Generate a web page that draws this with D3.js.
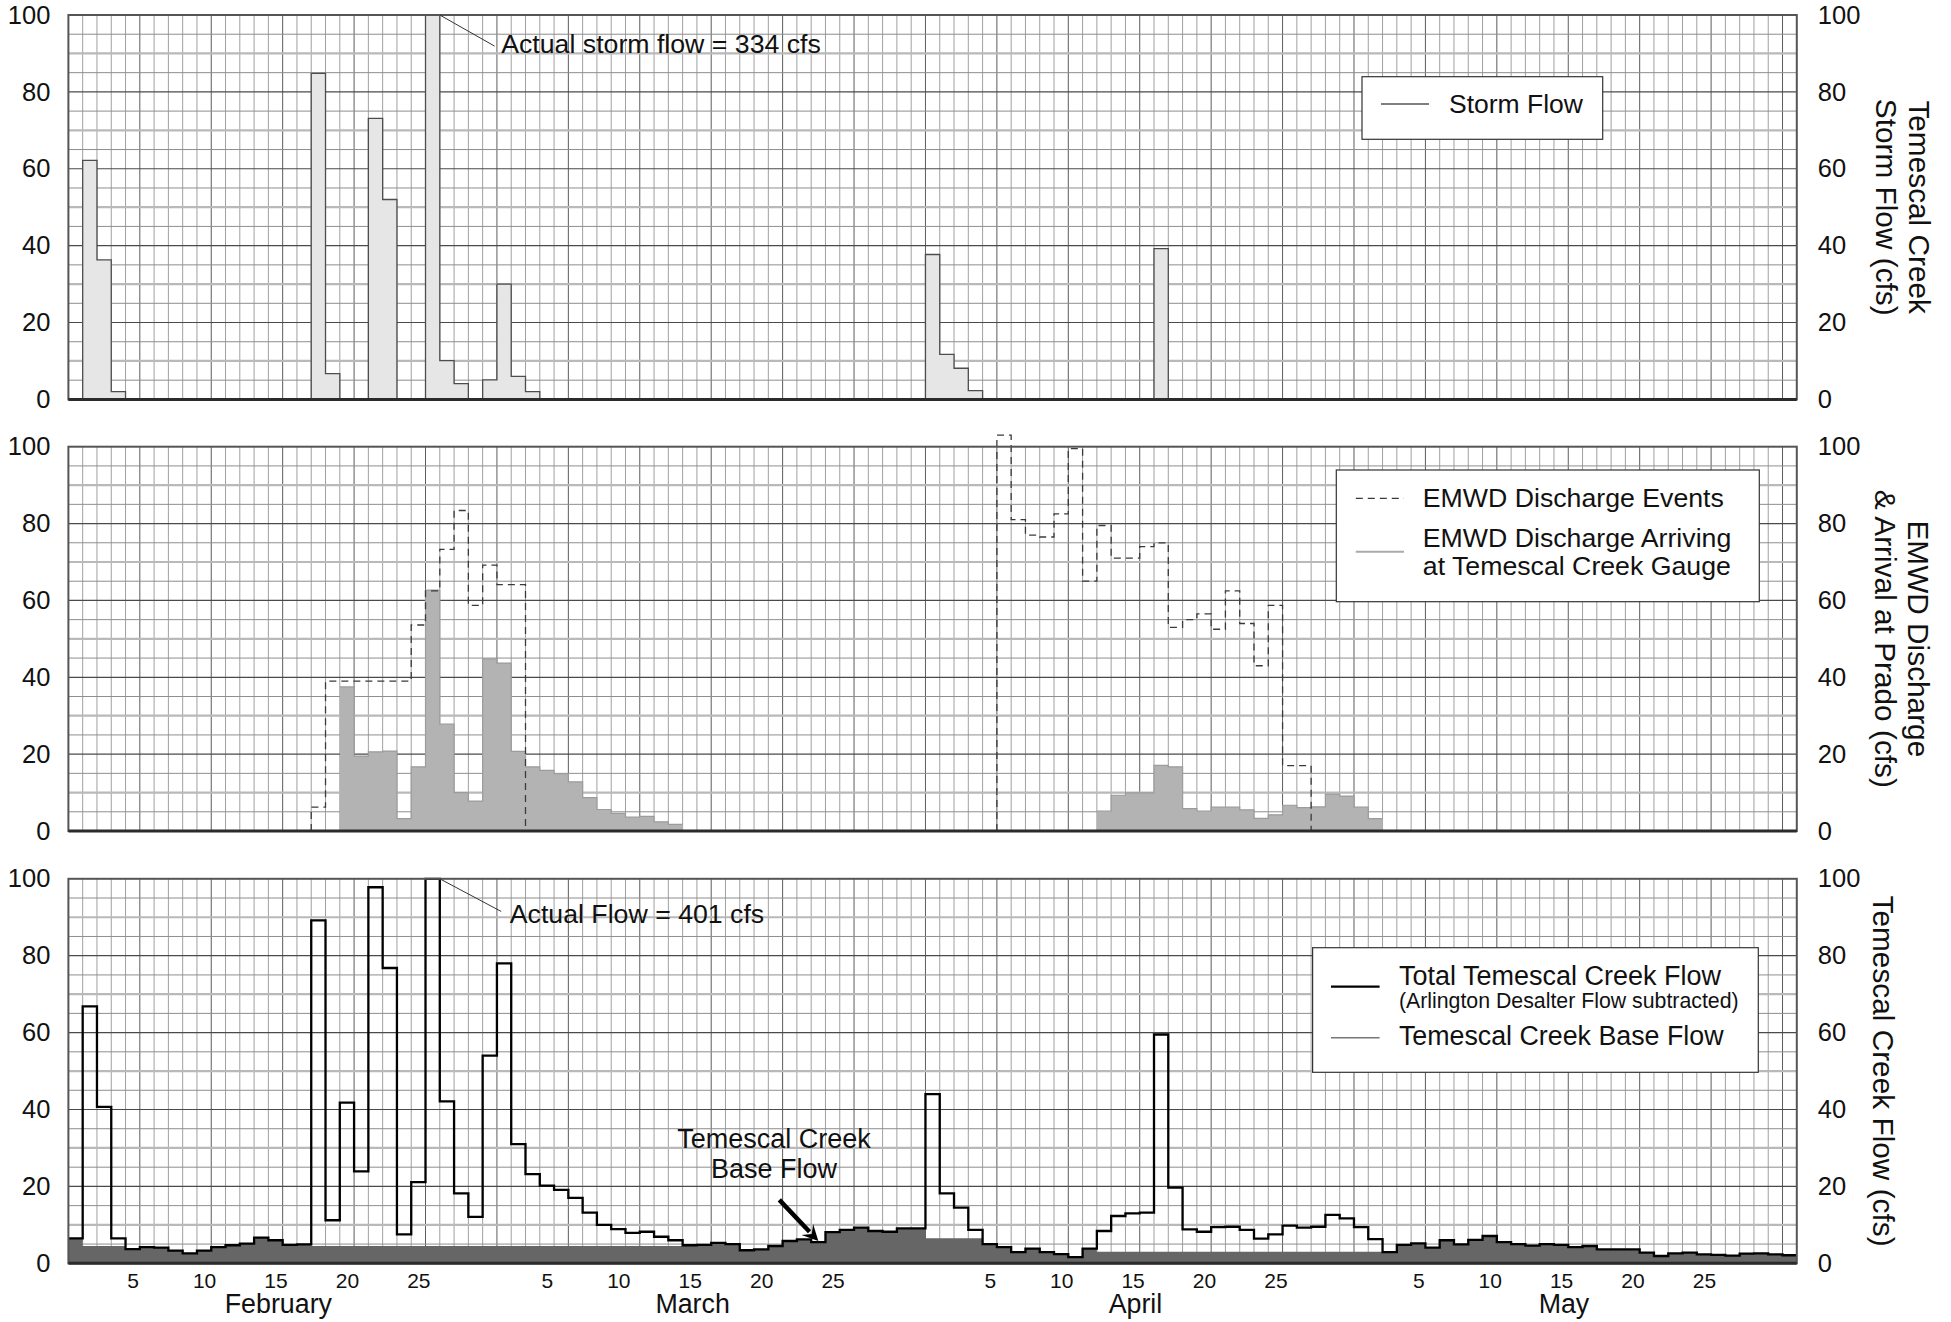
<!DOCTYPE html>
<html><head><meta charset="utf-8">
<script src="https://cdn.jsdelivr.net/npm/d3@7"></script>
<style>
html,body{margin:0;padding:0;background:#fff;}
svg{display:block;font-family:"Liberation Sans", Arial, sans-serif;}
</style></head><body>
<svg id="chart" width="1951" height="1322"></svg>
<script>
// ---------------- DATA ----------------
const months = ["February", "March", "April", "May"];
const monthDays = [29, 31, 30, 31];
const dayTicks = [5, 10, 15, 20, 25];
const yTicks = [0, 20, 40, 60, 80, 100];

// Temescal Creek storm flow (cfs), one value per day Feb 1 .. May 31
const stormFlow = [
  0, 62.2, 36.3, 2.0, 0, 0, 0, 0, 0, 0,
  0, 0, 0, 0, 0, 0, 0, 84.8, 6.7, 0,
  0, 73.1, 52.0, 0, 0, 334, 10.1, 4.1, 0, 5.1,
  30.0, 6.0, 2.0, 0, 0, 0, 0, 0, 0, 0,
  0, 0, 0, 0, 0, 0, 0, 0, 0, 0,
  0, 0, 0, 0, 0, 0, 0, 0, 0, 0,
  37.7, 11.7, 8.1, 2.3, 0, 0, 0, 0, 0, 0,
  0, 0, 0, 0, 0, 0, 39.2, 0, 0, 0,
  0, 0, 0, 0, 0, 0, 0, 0, 0, 0,
  0, 0, 0, 0, 0, 0, 0, 0, 0, 0,
  0, 0, 0, 0, 0, 0, 0, 0, 0, 0,
  0, 0, 0, 0, 0, 0, 0, 0, 0, 0,
  0
];

// EMWD discharge events (cfs); null = no event
const emwdEvents = [
  null, null, null, null, null, null, null, null, null, null,
  null, null, null, null, null, null, null, 6.2, 39, 39,
  39, 39, 39, 39, 53.6, 62.5, 73.3, 83.4, 58.7, 69.2,
  64.1, 64.1, 0, 0, 0, 0, 0, 0, 0, 0,
  0, 0, 0, null, null, null, null, null, null, null,
  null, null, null, null, null, null, null, null, null, null,
  null, null, null, null, null, 103, 81, 77, 76.5, 82.5,
  99.5, 65, 79.5, 71, 71, 74, 75, 53, 55, 56.5,
  52.5, 62.5, 54, 43, 58.7, 17, 17, 0, 0, 0,
  0, 0, null, null, null, null, null, null, null, null,
  null, null, null, null, null, null, null, null, null, null,
  null, null, null, null, null, null, null, null, null, null,
  null
];

// EMWD discharge arriving at Temescal Creek gauge (cfs)
const emwdArriving = [
  null, null, null, null, null, null, null, null, null, null,
  null, null, null, null, null, null, null, null, null, 37.5,
  19.5, 20.6, 20.8, 3.2, 16.7, 62.7, 27.8, 10.0, 7.8, 44.8,
  43.7, 20.7, 16.7, 15.8, 14.9, 12.8, 8.7, 5.6, 4.6, 3.6,
  3.8, 2.4, 1.7, null, null, null, null, null, null, null,
  null, null, null, null, null, null, null, null, null, null,
  null, null, null, null, null, null, null, null, null, null,
  null, null, 5.2, 9.3, 9.9, 9.9, 17.1, 16.7, 5.8, 5.2,
  6.2, 6.2, 5.5, 3.3, 4.2, 6.7, 6.1, 6.3, 9.6, 9.1,
  6.2, 3.2, null, null, null, null, null, null, null, null,
  null, null, null, null, null, null, null, null, null, null,
  null, null, null, null, null, null, null, null, null, null,
  null
];

// Total Temescal Creek flow (Arlington Desalter flow subtracted), cfs
const totalFlow = [
  6.5, 66.8, 40.7, 6.5, 3.7, 4.2, 4.1, 3.3, 2.6, 3.3,
  4.2, 4.7, 5.1, 6.7, 6.0, 4.8, 4.9, 89.2, 11.2, 41.8,
  23.9, 97.8, 76.8, 7.5, 21.1, 401, 42.1, 18.2, 12.1, 54.0,
  78.0, 31.0, 23.2, 20.2, 19.1, 17.0, 13.2, 10.0, 8.9, 7.9,
  8.2, 6.9, 6.0, 4.7, 4.8, 5.3, 5.0, 3.4, 3.6, 4.5,
  5.8, 6.2, 5.5, 8.1, 8.7, 9.3, 8.4, 8.2, 9.1, 9.1,
  44.0, 18.2, 14.5, 8.7, 5.0, 4.2, 2.9, 3.8, 2.9, 2.4,
  1.6, 3.8, 8.4, 12.3, 13.0, 13.2, 59.5, 19.7, 8.8, 8.2,
  9.4, 9.5, 8.7, 6.4, 7.5, 9.8, 9.3, 9.5, 12.6, 11.7,
  9.4, 6.3, 2.9, 4.8, 5.2, 4.1, 6.0, 4.9, 6.1, 7.1,
  5.5, 5.0, 4.6, 5.0, 4.8, 4.2, 4.5, 3.6, 3.6, 3.6,
  2.8, 1.9, 2.6, 2.8, 2.3, 2.2, 2.0, 2.5, 2.6, 2.3,
  2.1
];

// Temescal Creek base flow, cfs
const baseFlow = [
  6.5, 4.5, 4.5, 4.5, 3.7, 4.2, 4.1, 3.3, 2.6, 3.3,
  4.2, 4.7, 5.1, 6.7, 6.0, 4.8, 4.9, 4.5, 4.5, 4.5,
  4.5, 4.5, 4.5, 4.5, 4.5, 4.5, 4.5, 4.5, 4.5, 4.5,
  4.5, 4.5, 4.5, 4.5, 4.5, 4.5, 4.5, 4.5, 4.5, 4.5,
  4.5, 4.5, 4.5, 4.7, 4.8, 5.3, 5.0, 3.4, 3.6, 4.5,
  5.8, 6.2, 5.5, 8.1, 8.7, 9.3, 8.4, 8.2, 9.1, 9.1,
  6.5, 6.5, 6.5, 6.5, 5.0, 4.2, 2.9, 3.8, 2.9, 2.4,
  1.6, 3.8, 3.0, 3.0, 3.0, 3.0, 3.0, 3.0, 3.0, 3.0,
  3.0, 3.0, 3.0, 3.0, 3.0, 3.0, 3.0, 3.0, 3.0, 3.0,
  3.0, 3.0, 2.9, 4.8, 5.2, 4.1, 6.0, 4.9, 6.1, 7.1,
  5.5, 5.0, 4.6, 5.0, 4.8, 4.2, 4.5, 3.6, 3.6, 3.6,
  2.8, 1.9, 2.6, 2.8, 2.3, 2.2, 2.0, 2.5, 2.6, 2.3,
  2.1
];

const panelTitles = [
  ["Temescal Creek", "Storm Flow (cfs)"],
  ["EMWD Discharge", "& Arrival at Prado (cfs)"],
  ["Temescal Creek Flow (cfs)"]
];

// ---------------- LAYOUT ----------------
const svg = d3.select("#chart");
svg.append("rect").attr("width", 1951).attr("height", 1322).attr("fill", "#fff");
const FONT = '"Liberation Sans", Arial, sans-serif';
const TXT = 26.7;

const nDays = d3.sum(monthDays);
const monthStart = monthDays.map((d, i) => d3.sum(monthDays.slice(0, i)));
const x = d3.scaleLinear().domain([0, nDays]).range([68.4, 1796.8]);
const panelBox = [[15, 399.4], [446.7, 831], [878.8, 1263.3]];
const ys = panelBox.map(([t, b], k) => d3.scaleLinear().domain([0, 100]).range([b, t]).clamp(k !== 1));

function stepPts(vals) {
  const p = vals.map((v, i) => [i, v]);
  p.push([vals.length, vals[vals.length - 1]]);
  return p;
}
function runs(vals) {
  const out = []; let cur = null;
  vals.forEach((v, i) => {
    if (v == null) { cur = null; return; }
    if (!cur) { cur = []; out.push(cur); }
    cur.push([i, v]);
  });
  out.forEach(r => { const l = r[r.length - 1]; r.push([l[0] + 1, l[1]]); });
  return out;
}

function drawGrid(y) {
  const g = svg.append("g");
  g.append("rect").attr("x", x(0)).attr("y", y(100)).attr("width", x(nDays) - x(0))
    .attr("height", y(0) - y(100)).attr("fill", "#fff");
  g.selectAll("line.v").data(d3.range(1, nDays)).join("line").attr("class", "v")
    .attr("x1", d => x(d)).attr("x2", d => x(d)).attr("y1", y(100)).attr("y2", y(0))
    .attr("stroke", d => d % 5 === 0 ? "#5c5c5c" : "#a0a0a0").attr("stroke-width", 1);
  g.selectAll("line.h").data(d3.range(5, 100, 5)).join("line").attr("class", "h")
    .attr("x1", x(0)).attr("x2", x(nDays)).attr("y1", d => y(d)).attr("y2", d => y(d))
    .attr("stroke", d => d % 20 === 0 ? "#4a4a4a" : (d % 10 === 0 ? "#b9b9b9" : "#8e8e8e"))
    .attr("stroke-width", d => d % 20 === 0 ? 1.2 : (d % 10 === 0 ? 2.2 : 1));
}
function drawFrame(y) {
  svg.append("rect").attr("x", x(0)).attr("y", y(100)).attr("width", x(nDays) - x(0))
    .attr("height", y(0) - y(100)).attr("fill", "none").attr("stroke", "#555").attr("stroke-width", 2);
  svg.append("line").attr("x1", x(0)).attr("x2", x(nDays)).attr("y1", y(0)).attr("y2", y(0))
    .attr("stroke", "#2b2b2b").attr("stroke-width", 3);
}
function drawYAxes(y) {
  const gl = svg.append("g").attr("transform", `translate(${x(0)},0)`)
    .call(d3.axisLeft(y).tickValues(yTicks).tickSize(0).tickPadding(18));
  const gr = svg.append("g").attr("transform", `translate(${x(nDays)},0)`)
    .call(d3.axisRight(y).tickValues(yTicks).tickSize(0).tickPadding(21));
  [gl, gr].forEach(g => {
    g.select(".domain").remove();
    g.attr("font-family", FONT).attr("font-size", 25.5);
    g.selectAll("text").attr("fill", "#111");
  });
}
function drawRightTitle(lines, k, baseX) {
  const [t, b] = panelBox[k];
  const g = svg.append("g").attr("transform", `translate(${baseX},${(t + b) / 2}) rotate(90)`);
  const txt = g.append("text").attr("text-anchor", "middle").attr("font-size", 29.8).attr("fill", "#111");
  lines.forEach((l, i) => txt.append("tspan").attr("x", 0).attr("y", i * 33).text(l));
}

const stepLine = y => d3.line().x(d => x(d[0])).y(d => y(d[1])).curve(d3.curveStepAfter);
const stepArea = y => d3.area().x(d => x(d[0])).y0(y(0)).y1(d => y(d[1])).curve(d3.curveStepAfter);

// ---------------- PANEL 1: storm flow ----------------
{
  const y = ys[0];
  drawGrid(y);
  const pts = stepPts(stormFlow);
  svg.append("path").attr("d", stepArea(y)(pts)).attr("fill", "#e6e6e6");
  svg.append("path").attr("d", stepLine(y)(pts)).attr("fill", "none").attr("stroke", "#4d4d4d").attr("stroke-width", 1.3);
  drawFrame(y);
  drawYAxes(y);
  drawRightTitle(panelTitles[0], 0, 1909);
  // annotation
  svg.append("line").attr("x1", x(26)).attr("y1", y(100)).attr("x2", x(29.84)).attr("y2", y(91.9))
    .attr("stroke", "#333").attr("stroke-width", 1);
  svg.append("text").attr("x", x(30.3)).attr("y", y(90.1)).attr("font-size", TXT).attr("fill", "#111")
    .text("Actual storm flow = 334 cfs");
  // legend
  svg.append("rect").attr("x", 1362).attr("y", 76.7).attr("width", 240.7).attr("height", 62.6)
    .attr("fill", "#fff").attr("stroke", "#333").attr("stroke-width", 1.2);
  svg.append("line").attr("x1", 1381).attr("x2", 1429).attr("y1", 104).attr("y2", 104).attr("stroke", "#555").attr("stroke-width", 1.4);
  svg.append("text").attr("x", 1449).attr("y", 113.3).attr("font-size", 26.5).attr("fill", "#111").text("Storm Flow");
}

// ---------------- PANEL 2: EMWD discharge ----------------
{
  const y = ys[1];
  drawGrid(y);
  runs(emwdArriving).forEach(r => {
    svg.append("path").attr("d", stepArea(y)(r)).attr("fill", "#b3b3b3");
    svg.append("path").attr("d", stepLine(y)(r)).attr("fill", "none").attr("stroke", "#9c9c9c").attr("stroke-width", 1.2);
  });
  runs(emwdEvents).forEach(r => {
    const pts = [[r[0][0], 0]].concat(r);
    svg.append("path").attr("d", stepLine(y)(pts)).attr("fill", "none").attr("stroke", "#3a3a3a")
      .attr("stroke-width", 1.3).attr("stroke-dasharray", "7,5");
  });
  drawFrame(y);
  drawYAxes(y);
  drawRightTitle(panelTitles[1], 1, 1908);
  // legend
  svg.append("rect").attr("x", 1336.3).attr("y", 470).attr("width", 423).attr("height", 131.7)
    .attr("fill", "#fff").attr("stroke", "#333").attr("stroke-width", 1.2);
  svg.append("line").attr("x1", 1355.8).attr("x2", 1404).attr("y1", 498.3).attr("y2", 498.3)
    .attr("stroke", "#3a3a3a").attr("stroke-width", 1.3).attr("stroke-dasharray", "7,5");
  svg.append("text").attr("x", 1422.8).attr("y", 506.7).attr("font-size", TXT).attr("fill", "#111").text("EMWD Discharge Events");
  svg.append("line").attr("x1", 1355.8).attr("x2", 1404).attr("y1", 551.7).attr("y2", 551.7)
    .attr("stroke", "#aaa").attr("stroke-width", 2);
  svg.append("text").attr("x", 1422.8).attr("y", 547.3).attr("font-size", TXT).attr("fill", "#111").text("EMWD Discharge Arriving");
  svg.append("text").attr("x", 1422.8).attr("y", 575).attr("font-size", TXT).attr("fill", "#111").text("at Temescal Creek Gauge");
}

// ---------------- PANEL 3: total & base flow ----------------
{
  const y = ys[2];
  drawGrid(y);
  svg.append("path").attr("d", stepArea(y)(stepPts(baseFlow))).attr("fill", "#666");
  svg.append("path").attr("d", stepLine(y)(stepPts(totalFlow))).attr("fill", "none").attr("stroke", "#000").attr("stroke-width", 2.3);
  drawFrame(y);
  drawYAxes(y);
  drawRightTitle(panelTitles[2], 2, 1873);

  // x axis: day ticks at band centres
  const tickIdx = [];
  monthStart.forEach(s => dayTicks.forEach(t => tickIdx.push(s + t - 1)));
  const dayOf = i => { const m = d3.bisectRight(monthStart, i) - 1; return i - monthStart[m] + 1; };
  const gx = svg.append("g").attr("transform", `translate(0,${y(0)})`)
    .call(d3.axisBottom(x).tickValues(tickIdx.map(i => i + 0.5)).tickFormat(d => dayOf(Math.floor(d))).tickSize(0).tickPadding(9.5));
  gx.select(".domain").remove();
  gx.attr("font-family", FONT).attr("font-size", 21);
  gx.selectAll("text").attr("fill", "#111");
  svg.selectAll("text.month").data(months).join("text").attr("class", "month")
    .attr("x", (d, i) => x(monthStart[i] + 14.7)).attr("y", 1313).attr("text-anchor", "middle")
    .attr("font-size", 26.8).attr("fill", "#111").text(d => d);

  // annotation: actual flow
  svg.append("line").attr("x1", x(26)).attr("y1", y(100)).attr("x2", x(30.3)).attr("y2", y(91.5))
    .attr("stroke", "#333").attr("stroke-width", 1);
  svg.append("text").attr("x", x(30.9)).attr("y", y(88.5)).attr("font-size", TXT).attr("fill", "#111")
    .text("Actual Flow = 401 cfs");
  // annotation: base flow with arrow
  const bt = svg.append("text").attr("text-anchor", "middle").attr("font-size", 27).attr("fill", "#111");
  bt.append("tspan").attr("x", x(49.4)).attr("y", y(30.0)).text("Temescal Creek");
  bt.append("tspan").attr("x", x(49.4)).attr("y", y(22.2)).text("Base Flow");
  const ax0 = x(49.77), ay0 = y(16.5), ax1 = x(52.5), ay1 = y(5.8);
  const dx = ax1 - ax0, dy = ay1 - ay0, len = Math.hypot(dx, dy), ux = dx / len, uy = dy / len;
  const hl = 16, hw = 8;
  svg.append("line").attr("x1", ax0).attr("y1", ay0).attr("x2", ax1 - ux * hl * 0.8).attr("y2", ay1 - uy * hl * 0.8)
    .attr("stroke", "#000").attr("stroke-width", 4.5);
  svg.append("polygon").attr("points", [
    [ax1, ay1],
    [ax1 - ux * hl - uy * hw, ay1 - uy * hl + ux * hw],
    [ax1 - ux * hl * 0.6, ay1 - uy * hl * 0.6],
    [ax1 - ux * hl + uy * hw, ay1 - uy * hl - ux * hw]
  ].map(p => p.join(",")).join(" ")).attr("fill", "#000");

  // legend
  svg.append("rect").attr("x", 1312.6).attr("y", 947.7).attr("width", 445.7).attr("height", 124.6)
    .attr("fill", "#fff").attr("stroke", "#333").attr("stroke-width", 1.2);
  svg.append("line").attr("x1", 1331).attr("x2", 1379.6).attr("y1", 986.7).attr("y2", 986.7).attr("stroke", "#000").attr("stroke-width", 2.2);
  svg.append("text").attr("x", 1398.9).attr("y", 985).attr("font-size", 27).attr("fill", "#111").text("Total Temescal Creek Flow");
  svg.append("text").attr("x", 1398.9).attr("y", 1008.3).attr("font-size", 21.3).attr("fill", "#111").text("(Arlington Desalter Flow subtracted)");
  svg.append("line").attr("x1", 1331).attr("x2", 1379.6).attr("y1", 1037.7).attr("y2", 1037.7).attr("stroke", "#777").attr("stroke-width", 1.4);
  svg.append("text").attr("x", 1398.9).attr("y", 1045).attr("font-size", 26.8).attr("fill", "#111").text("Temescal Creek Base Flow");
}
</script>
</body></html>
